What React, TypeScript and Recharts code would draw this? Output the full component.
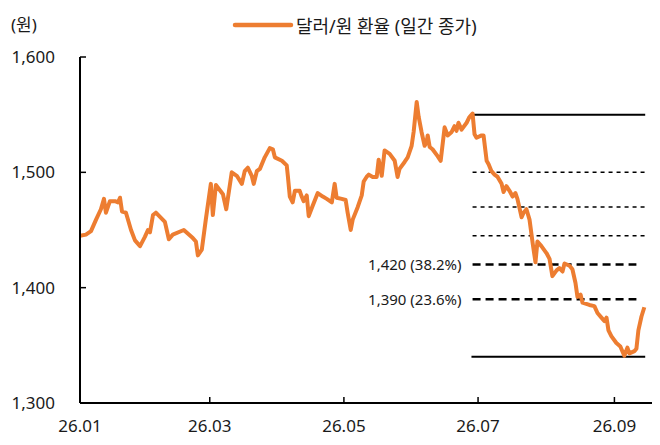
import { LineChart, Line, XAxis, YAxis, Legend, ReferenceLine } from 'recharts';

// days since 2026-01-01
const DAYS = [
  0, 2.7, 5, 7.3, 9.5, 10.9, 11.8, 13.6, 15.9, 17.3, 18.2, 19.1, 20.9, 23.2, 25, 27.3, 29.5, 30.9, 31.8, 33.2,
  34.5, 38.6, 40.4, 42.2, 47.2, 51.3, 52.7, 53.6, 55.4, 57.2, 59.5, 60.4, 61.8, 65, 66.5, 69, 71.3, 73.6, 74.9, 76.3,
  78.1, 79, 80.4, 81.8, 84, 86.3, 87.7, 88.6, 91.8, 94, 94.5, 95.4, 96.7, 97.7, 99.9, 100.8, 101.7, 103.1, 104, 105.8,
  108.1, 110.4, 112.2, 114.5, 115.8, 116.7, 119, 120.8, 121.7, 123.1, 124, 126.3, 128.1, 129, 130.3, 131.3, 133.1, 134.9, 135.8, 137.2,
  138.5, 140.8, 143.1, 144.4, 145.3, 147.6, 149, 150.8, 151.7, 153.1, 154, 155.3, 156.7, 157.6, 158.1, 159, 160.3, 162.6, 164, 165.8,
  167.2, 169, 170.3, 171.2, 172.1, 173.5, 175.8, 177.1, 178.5, 179.4, 180.3, 182.6, 183.5, 184.9, 185.8, 187.1, 188.5, 189.9, 191.7, 192.6,
  193.9, 195.3, 196.7, 198, 198.9, 200.8, 201.7, 203, 204.4, 205.8, 207.1, 208, 209.8, 212.1, 213.5, 214.8, 216.7, 218, 219.4, 220.3,
  222.6, 223.9, 225.3, 226.2, 227.6, 228.5, 231.6, 233.9, 235.3, 237.1, 238.5, 239.4, 240.3, 241.6, 243.9, 245.7, 247.5, 248.9, 249.8, 252.1,
  253, 253.9, 255.3, 256.6,
];

const USDKRW = [
  1445, 1446, 1449, 1459, 1468, 1477, 1465, 1475, 1475, 1474, 1478, 1466, 1465, 1450, 1441, 1436, 1444, 1450, 1448, 1463,
  1465, 1457, 1442, 1446, 1450, 1443, 1440, 1428, 1433, 1459, 1490, 1463, 1489, 1481, 1468, 1500, 1497, 1490, 1501, 1504,
  1497, 1490, 1501, 1503, 1513, 1521, 1520, 1513, 1510, 1506, 1497, 1479, 1474, 1484, 1484, 1479, 1475, 1480, 1462, 1471,
  1482, 1479, 1477, 1474, 1490, 1478, 1477, 1476, 1465, 1450, 1459, 1470, 1480, 1492, 1496, 1498, 1496, 1496, 1511, 1497,
  1519, 1516, 1510, 1496, 1503, 1509, 1513, 1523, 1535, 1561, 1548, 1535, 1523, 1526, 1532, 1522, 1520, 1514, 1510, 1539,
  1532, 1535, 1540, 1536, 1543, 1537, 1543, 1548, 1551, 1533, 1530, 1532, 1532, 1510, 1507, 1501, 1498, 1496, 1490, 1483,
  1488, 1484, 1479, 1482, 1477, 1461, 1465, 1468, 1459, 1439, 1422, 1440, 1436, 1430, 1425, 1410, 1415, 1417, 1414, 1421,
  1419, 1416, 1404, 1392, 1394, 1387, 1385, 1384, 1378, 1374, 1371, 1374, 1363, 1358, 1352, 1349, 1341, 1348, 1343, 1345,
  1347, 1363, 1375, 1383,
];

const X_TICKS = [0, 59, 120, 181, 243];
const X_LABELS = ['26.01', '26.03', '26.05', '26.07', '26.09'];
const Y_TICKS = [1300, 1400, 1500, 1600];

// fibonacci retracement from the June high to the September low
const FIB_RANGE = [178, 257];
const FIB_BOUNDS = [1550, 1340];
const FIB_MINOR = [1500, 1470, 1445];
const FIB_KEY = [1420, 1390];
const FIB_KEY_END = 253;
const FIB_KEY_LABELS = ['1,420 (38.2%)', '1,390 (23.6%)'];

const data = DAYS.map((d, i) => ({ day: d, fx: USDKRW[i] }));

const ORANGE = '#ED7D31';
const FONT = '"Noto Sans", "Noto Sans CJK KR", sans-serif';
const TEXT = '#1a1a1a';

const renderLegend = () => (
  <div style={{ display: 'flex', alignItems: 'center', fontFamily: FONT, fontSize: 18, color: TEXT, whiteSpace: 'nowrap' }}>
    <svg width={62} height={10}>
      <line x1={3} y1={5} x2={59} y2={5} stroke={ORANGE} strokeWidth={4.5} strokeLinecap="round" />
    </svg>
    <span style={{ marginLeft: 2 }}>달러/원 환율 (일간 종가)</span>
  </div>
);

export default function App() {
  return (
    <div style={{ position: 'relative', width: 660, height: 445, margin: -8, background: '#fff', fontFamily: FONT }}>
      <span style={{ position: 'absolute', left: 11, top: 12, fontSize: 17, color: TEXT, lineHeight: '26px' }}>(원)</span>
      <LineChart width={660} height={445} data={data} margin={{ top: 57, right: 6, bottom: 2, left: 10 }}>
        <XAxis
          dataKey="day"
          type="number"
          domain={[0, 261]}
          ticks={X_TICKS}
          tickFormatter={(v) => X_LABELS[X_TICKS.indexOf(v)]}
          height={40}
          axisLine={{ stroke: '#000', strokeWidth: 2 }}
          tickLine={{ stroke: '#000', strokeWidth: 1.5 }}
          tickSize={-6}
          tickMargin={23}
          tick={{ fill: TEXT, fontSize: 17, fontFamily: FONT }}
        />
        <YAxis
          domain={[1300, 1600]}
          ticks={Y_TICKS}
          width={70}
          tickFormatter={(v) => v.toLocaleString('en-US')}
          axisLine={{ stroke: '#000', strokeWidth: 2 }}
          tickLine={{ stroke: '#000', strokeWidth: 1.5 }}
          tickSize={-6}
          tickMargin={31}
          tick={{ fill: TEXT, fontSize: 17, fontFamily: FONT }}
        />
        <Legend
          layout="vertical"
          align="center"
          verticalAlign="middle"
          content={renderLegend}
          wrapperStyle={{ top: 12, left: 232, width: 'auto' }}
        />
        {FIB_BOUNDS.map((v) => (
          <ReferenceLine
            key={`b${v}`}
            segment={[{ x: FIB_RANGE[0], y: v }, { x: FIB_RANGE[1], y: v }]}
            stroke="#000"
            strokeWidth={2}
          />
        ))}
        {FIB_MINOR.map((v) => (
          <ReferenceLine
            key={`m${v}`}
            segment={[{ x: FIB_RANGE[0] + 0.5, y: v }, { x: FIB_RANGE[1], y: v }]}
            stroke="#000"
            strokeWidth={1.5}
            strokeDasharray="4 4"
          />
        ))}
        {FIB_KEY.map((v, i) => (
          <ReferenceLine
            key={`k${v}`}
            segment={[{ x: FIB_RANGE[0] + 0.5, y: v }, { x: FIB_KEY_END, y: v }]}
            stroke="#000"
            strokeWidth={2.5}
            strokeDasharray="8 5"
            label={{ value: FIB_KEY_LABELS[i], position: 'left', offset: 11, fill: TEXT, fontSize: 15, fontFamily: FONT }}
          />
        ))}
        <Line
          type="linear"
          dataKey="fx"
          stroke={ORANGE}
          strokeWidth={4}
          strokeLinejoin="round"
          dot={false}
          activeDot={false}
          isAnimationActive={false}
        />
      </LineChart>
    </div>
  );
}
